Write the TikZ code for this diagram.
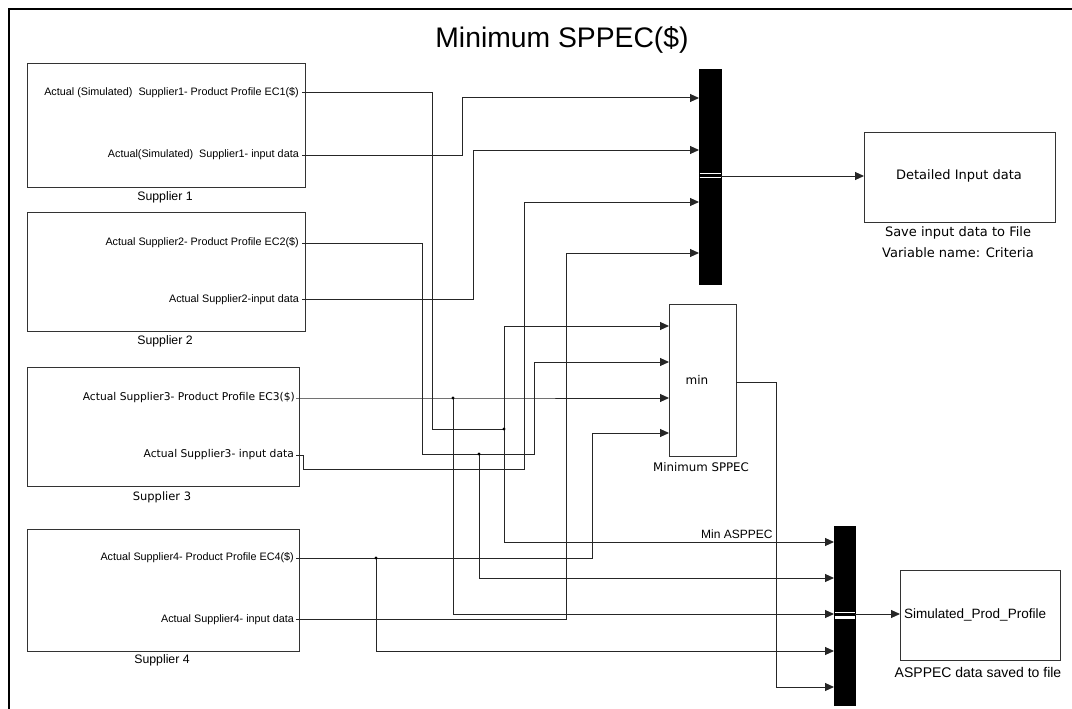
\documentclass[tikz,border=0pt]{standalone}
\usepackage{fontspec}
\setmainfont{Liberation Sans}
\newfontfamily\comicf{DejaVu Sans}
\usetikzlibrary{arrows.meta}
\begin{document}
\begin{tikzpicture}[x=1pt,y=-1pt,
  wire/.style={draw=black!85, line width=1pt},
  arr/.style={wire, -{Triangle[length=9pt,width=8pt]}},
  box/.style={draw=black!80, line width=0.9pt, inner sep=0pt, outer sep=0pt, fill=white},
  bar/.style={fill=black, draw=black, inner sep=0pt, outer sep=0pt},
  port/.style={anchor=east, inner sep=0pt, font=\fontsize{10.8}{12}\selectfont},
  cport/.style={anchor=east, inner sep=0pt, font=\comicf\fontsize{10.7}{12}\selectfont},
  lab/.style={inner sep=0pt, font=\fontsize{12.3}{14}\selectfont},
  clab/.style={inner sep=0pt, font=\comicf\fontsize{11.5}{14}\selectfont},
  jdot/.style={fill=black}
]
\useasboundingbox (0,0) rectangle (1072,709);
\clip (0,0) rectangle (1072,709);
\draw[line width=2pt] (8.5,9.5) rectangle (1085,720);

% title
\node[inner sep=0pt, font=\fontsize{28.3}{30}\selectfont] (title) at (562,40) {Minimum SPPEC(\$)};

% supplier boxes
\node[box, minimum width=278pt, minimum height=124pt] (s1) at (166,125) {};
\node[box, minimum width=278pt, minimum height=119pt] (s2) at (166,271.5) {};
\node[box, minimum width=272pt, minimum height=119pt] (s3) at (163,426.5) {};
\node[box, minimum width=272pt, minimum height=122pt] (s4) at (163,590) {};

% other blocks
\node[box, minimum width=67pt, minimum height=152pt] (min) at (702.5,380) {};
\node[box, minimum width=191pt, minimum height=90pt] (did) at (959.5,177) {};
\node[box, minimum width=160pt, minimum height=90pt] (sim) at (980,615) {};
\node[bar, minimum width=22pt, minimum height=215pt] (topbar) at (710,176.5) {};
\node[bar, minimum width=21pt, minimum height=179pt] (botbar) at (844.5,615.5) {};
\draw[white, line width=1.1pt] (699.5,173.8) -- (720.5,173.8);
\draw[white, line width=1.6pt] (699.5,177.6) -- (720.5,177.6);
\draw[white, line width=1pt] (834.5,612.6) -- (854.5,612.6);
\draw[white, line width=2.4pt] (834.5,617.6) -- (854.5,617.6);

% port texts
\node[port] (t1a) at (299,93) {Actual (Simulated)\ \ Supplier1- Product Profile EC1(\$)};
\node[port] (t1b) at (299,155) {Actual(Simulated)\ \ Supplier1- input data};
\node[port] (t2a) at (299,243) {Actual Supplier2- Product Profile EC2(\$)};
\node[port] (t2b) at (299,300) {Actual Supplier2-input data};
\node[cport] (t3a) at (295,398) {Actual Supplier3- Product Profile EC3(\$)};
\node[cport] (t3b) at (294,455) {Actual Supplier3- input data};
\node[port] (t4a) at (294,558) {Actual Supplier4- Product Profile EC4(\$)};
\node[port] (t4b) at (294,620) {Actual Supplier4- input data};

% box labels
\node[lab] (l1) at (165,197) {Supplier 1};
\node[lab] (l2) at (165,341) {Supplier 2};
\node[clab] (l3) at (162,497) {Supplier 3};
\node[lab] (l4) at (162,660) {Supplier 4};
\node[inner sep=0pt, font=\comicf\fontsize{12}{14}\selectfont] (minlab) at (697,380) {min};
\node[clab, font=\comicf\fontsize{11.8}{14}\selectfont] (minname) at (701,467) {Minimum SPPEC};
\node[inner sep=0pt, font=\comicf\fontsize{13}{15}\selectfont] (didt) at (959,176) {Detailed Input data};
\node[inner sep=0pt, align=center, font=\comicf\fontsize{13}{21}\selectfont] (didlab) at (958,242.5) {Save input data to File\\Variable name: Criteria};
\node[inner sep=0pt, anchor=west, font=\fontsize{13.5}{15}\selectfont] (simt) at (904,615) {Simulated\_Prod\_Profile};
\node[inner sep=0pt, font=\fontsize{14}{16}\selectfont] (simlab) at (978,672) {ASPPEC data saved to file};
\node[inner sep=0pt, anchor=base west, font=\fontsize{12}{14}\selectfont] (minasp) at (701,538.5) {Min ASPPEC};

% port coordinates
\coordinate (s1a) at (302,93);
\coordinate (s1b) at (302,155);
\coordinate (s2a) at (302,243);
\coordinate (s2b) at (302,299);
\coordinate (s3a) at (296,398);
\coordinate (s3b) at (296,455);
\coordinate (s4a) at (296,558);
\coordinate (s4b) at (296,619);
\coordinate (j1) at (504,429);
\coordinate (j2) at (479,454);
\coordinate (j3) at (453,398);
\coordinate (j4) at (376,558);

% wires
\draw[wire] (s1a) -| (432,429) -- (j1);
\draw[arr] (j1) |- (min.west |- 0,326);
\draw[arr] (j1) |- (botbar.west |- 0,542);
\draw[arr] (s1b) -| (462,98) -- (topbar.west |- 0,98);

\draw[wire] (s2a) -| (422,454) -- (j2);
\draw[arr] (j2) -| (534,362) -- (min.west |- 0,362);
\draw[arr] (j2) |- (botbar.west |- 0,578);
\draw[arr] (s2b) -| (473,150) -- (topbar.west |- 0,150);

\draw[arr] (s3a) -- (j3) -- (min.west |- 0,398);
\draw[arr] (j3) |- (botbar.west |- 0,614);
\draw[arr] (s3b) -| (303,469) -| (524,202) -- (topbar.west |- 0,202);

\draw[wire] (s4a) -- (j4);
\draw[arr] (j4) -| (592,433) -- (min.west |- 0,433);
\draw[arr] (j4) |- (botbar.west |- 0,651);
\draw[arr] (s4b) -| (566,253) -- (topbar.west |- 0,253);

\draw[arr] (min.east |- 0,382) -| (776,687) -- (botbar.west |- 0,687);
\draw[arr] (topbar.east |- 0,176) -- (did.west |- 0,176);
\draw[arr] (botbar.east |- 0,614) -- (sim.west |- 0,614);

% junction dots
\foreach \j in {j1,j2,j3,j4} \fill[jdot] (\j) circle (1.7pt);
\end{tikzpicture}
\end{document}
